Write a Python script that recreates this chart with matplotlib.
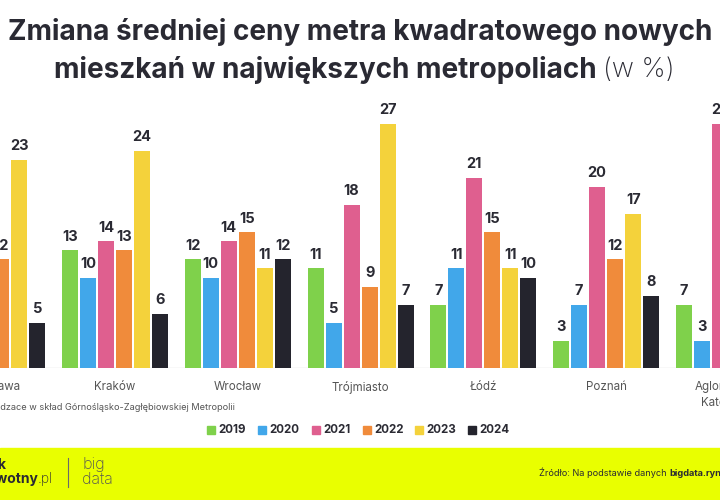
import numpy as np
import matplotlib
matplotlib.use("Agg")
import matplotlib.pyplot as plt

# ---- data ----
cities = ["Warszawa", "Kraków", "Wrocław", "Trójmiasto", "Łódź", "Poznań", "Aglomeracja\nKatowicka"]
years = ["2019", "2020", "2021", "2022", "2023", "2024"]
nan = np.nan
v2019 = [nan, 13, 12, 11, 7, 3, 7]
v2020 = [nan, 10, 10, 5, 11, 7, 3]
v2021 = [nan, 14, 14, 18, 21, 20, 27]
v2022 = [12, 13, 15, 9, 15, 12, nan]
v2023 = [23, 24, 11, 27, 11, 17, nan]
v2024 = [5, 6, 12, 7, 10, 8, nan]
series = [v2019, v2020, v2021, v2022, v2023, v2024]
colors = ["#7fd14b", "#41a7ea", "#df5f8f", "#f08b3b", "#f4d23b", "#24242d"]

W, H = 720, 500
fig = plt.figure(figsize=(7.2, 5.0), dpi=100)
fig.patch.set_facecolor("white")

def P(x, y):
    return (x / W, 1 - y / H)

FONT = "Inter"
DARK = "#2a2a33"

# ---- axes ----
base_y = 368
top_y = 100
ax = fig.add_axes([0, (H - base_y) / H, 1, (base_y - top_y) / H])
ax.set_xlim(0.0635, 5.927)
ax.set_ylim(0, (base_y - top_y) / 9.05)
ax.axis("off")
ax.axhline(0, color="#dcdcdc", lw=1.0, zorder=1)

x = np.arange(len(cities))
pitch = 0.1466
bw = 0.130
for k, (vals, col) in enumerate(zip(series, colors)):
    xs = x + (k - 2.5) * pitch
    for xi, v in zip(xs, vals):
        if np.isnan(v):
            continue
        ax.bar(xi, v, width=bw, color=col, zorder=2)
        ax.annotate(f"{int(v)}", (xi, v), xytext=(0, 7), textcoords="offset points",
                    ha="center", va="baseline", fontsize=10.5, fontweight="bold",
                    color=DARK, family=FONT, clip_on=False)

shift = matplotlib.transforms.ScaledTranslation(0, -13 / 100, fig.dpi_scale_trans)
for xi, c in zip(x, cities):
    ax.text(xi, 0, c, transform=ax.transData + shift, ha="center", va="top",
            fontsize=8.3, color="#555555", family=FONT, linespacing=1.45)

# ---- title ----
fig.text(*P(360, 32), "Zmiana średniej ceny metra kwadratowego nowych", ha="center", va="center",
         fontsize=20.1, fontweight="bold", color=DARK, family=FONT)
fig.text(*P(597, 70), "mieszkań w największych metropoliach", ha="right", va="center",
         fontsize=20.1, fontweight="bold", color=DARK, family=FONT)
fig.text(*P(603, 70), "(w %)", ha="left", va="center",
         fontsize=19.5, fontweight="light", color=DARK, family=FONT)

# ---- footnote ----
fig.text(*P(235, 408), "* Miasta wchodzace w skład Górnośląsko-Zagłębiowskiej Metropolii", ha="right", va="center",
         fontsize=6.6, color="#555555", family=FONT)

# ---- legend ----
lx = [207, 258, 312, 363, 415, 468]
for xx, yr, col in zip(lx, years, colors):
    fig.patches.append(matplotlib.patches.Rectangle(P(xx, 434), 8 / W, 8 / H, transform=fig.transFigure,
                                                    color=col))
    fig.text(*P(xx + 11, 430), yr, ha="left", va="center", fontsize=8.3, fontweight="bold",
             color=DARK, family=FONT)

# ---- footer band ----
fig.patches.append(matplotlib.patches.Rectangle((0, 0), 1, (H - 448) / H, transform=fig.transFigure,
                                                color="#e9ff00", zorder=0))
fig.text(*P(6, 465), "rynek", ha="right", va="center", fontsize=10, fontweight="bold",
         color=DARK, family=FONT)
fig.text(*P(38, 479), "pierwotny", ha="right", va="center", fontsize=10, fontweight="bold",
         color=DARK, family=FONT)
fig.text(*P(38, 479), ".pl", ha="left", va="center", fontsize=10, fontweight="light",
         color=DARK, family=FONT)
fig.lines.append(matplotlib.lines.Line2D([68 / W, 68 / W], [1 - 458 / H, 1 - 487 / H],
                                         transform=fig.transFigure, color="#6a6a6a", lw=0.8))
fig.text(*P(82, 465), "big", ha="left", va="center", fontsize=11.5, fontweight="light",
         color="#555555", family=FONT)
fig.text(*P(82, 479), "data", ha="left", va="center", fontsize=11.5, fontweight="light",
         color="#555555", family=FONT)
t1 = fig.text(*P(539, 473), "Źródło: Na podstawie danych ", ha="left", va="center", fontsize=6.6,
              color=DARK, family=FONT)
fig.canvas.draw()
bb = t1.get_window_extent()
fig.text(bb.x1 / W, 1 - 473 / H, "bigdata.rynekpierwotny.pl", ha="left", va="center", fontsize=6.6,
         fontweight="bold", color=DARK, family=FONT)

fig.savefig("out.png", dpi=100)
